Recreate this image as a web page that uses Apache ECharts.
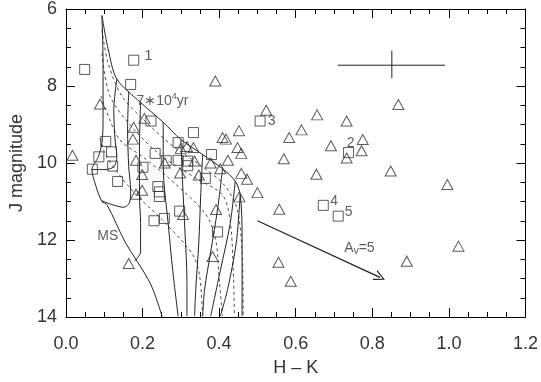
<!DOCTYPE html>
<html>
<head>
<meta charset="utf-8">
<script src="https://cdn.jsdelivr.net/npm/echarts@6/dist/echarts.min.js"></script>
<style>
  body { margin: 0; background: #fff; }
  #cmd { width: 541px; height: 382px; }
</style>
</head>
<body>
<div id="cmd"></div>
<script>
// J vs H-K diagram: squares, triangles, tracks and isochrones
const squareX = [0.177, 0.049, 0.169, 0.222, 0.333, 0.104, 0.293, 0.119, 0.086, 0.233, 0.380, 0.262, 0.293, 0.318, 0.318, 0.201, 0.069, 0.122, 0.135, 0.240, 0.244, 0.244, 0.364, 0.297, 0.230, 0.257, 0.396, 0.507, 0.738, 0.672, 0.711];
const squareJ = [7.33, 7.57, 7.96, 8.91, 9.21, 9.44, 9.47, 9.71, 9.84, 9.75, 9.78, 9.94, 9.93, 9.95, 10.07, 10.11, 10.16, 10.08, 10.48, 10.61, 10.75, 10.87, 10.40, 11.25, 11.50, 11.44, 11.79, 8.91, 9.73, 11.10, 11.38];

const triX = [0.089, 0.205, 0.177, 0.175, 0.316, 0.300, 0.333, 0.017, 0.390, 0.409, 0.418, 0.452, 0.448, 0.458, 0.183, 0.258, 0.336, 0.378, 0.423, 0.298, 0.199, 0.347, 0.403, 0.458, 0.473, 0.183, 0.199, 0.453, 0.500, 0.306, 0.392, 0.383, 0.164, 0.523, 0.656, 0.733, 0.615, 0.583, 0.692, 0.775, 0.772, 0.733, 0.569, 0.654, 0.848, 0.868, 0.557, 0.996, 1.025, 0.890, 0.555, 0.587];
const triJ = [8.47, 8.84, 9.07, 9.38, 9.57, 9.62, 9.60, 9.80, 7.87, 9.34, 9.38, 9.16, 9.60, 9.75, 9.93, 10.00, 9.95, 10.00, 9.93, 10.26, 10.30, 10.31, 10.15, 10.27, 10.42, 10.81, 10.71, 10.88, 10.77, 11.34, 11.21, 12.43, 12.61, 8.63, 8.75, 8.91, 9.14, 9.34, 9.55, 9.39, 9.68, 9.87, 9.89, 10.29, 10.21, 8.48, 11.20, 10.56, 12.16, 12.55, 12.58, 13.07];

// youngest isochrone (solid) and main sequence
const birthline = [[0.094, 6.17], [0.110, 7.03], [0.133, 7.82], [0.195, 8.43], [0.254, 8.94], [0.300, 9.39], [0.357, 9.78], [0.409, 10.15], [0.442, 10.47], [0.455, 10.83], [0.460, 11.82], [0.460, 13.98]];
const mainSeq = [[0.094, 6.17], [0.097, 7.40], [0.097, 8.87], [0.094, 9.48], [0.084, 9.85], [0.068, 10.17], [0.078, 10.59], [0.094, 11.0], [0.107, 11.08], [0.155, 12.06], [0.220, 13.12], [0.251, 13.98]];

// mass tracks (solid)
const tracks = [
  [[0.133, 7.82], [0.125, 8.63], [0.128, 9.36], [0.133, 9.85], [0.125, 10.10], [0.099, 10.17], [0.066, 10.17]],
  [[0.164, 8.13], [0.161, 9.12], [0.164, 10.10], [0.169, 10.71], [0.166, 11.03], [0.151, 11.15], [0.120, 11.08], [0.094, 10.98]],
  [[0.195, 8.43], [0.192, 9.61], [0.192, 10.83], [0.195, 11.57], [0.195, 12.31], [0.179, 12.55]],
  [[0.254, 8.94], [0.254, 10.10], [0.267, 11.57], [0.279, 12.80], [0.293, 13.98]],
  [[0.300, 9.39], [0.305, 10.59], [0.311, 11.82], [0.316, 13.04], [0.316, 13.98]],
  [[0.357, 9.78], [0.352, 10.83], [0.347, 12.06], [0.339, 13.29], [0.336, 13.98]],
  [[0.409, 10.15], [0.396, 11.20], [0.378, 12.31], [0.362, 13.29], [0.357, 13.98]],
  [[0.442, 10.47], [0.429, 11.57], [0.403, 12.80], [0.378, 13.98]],
  [[0.455, 10.83], [0.445, 12.06], [0.422, 13.29], [0.403, 13.98]]
];

// older isochrones (dotted)
const isochrones = [
  [[0.094, 6.54], [0.110, 7.40], [0.146, 8.26], [0.202, 8.87], [0.279, 9.56], [0.357, 10.10], [0.415, 10.59], [0.447, 11.20], [0.460, 12.31], [0.463, 13.98]],
  [[0.094, 7.15], [0.115, 8.26], [0.177, 9.12], [0.254, 9.85], [0.344, 10.42], [0.409, 10.83], [0.429, 11.50], [0.437, 12.80], [0.440, 13.98]],
  [[0.092, 8.26], [0.138, 9.36], [0.202, 9.85], [0.272, 10.42], [0.365, 11.33], [0.391, 11.99], [0.401, 13.12], [0.409, 13.98]],
  [[0.089, 9.36], [0.107, 9.85], [0.177, 10.76], [0.254, 11.50], [0.331, 12.38], [0.349, 12.92], [0.357, 13.98]]
];

// reddening vector and error cross
const arrowFrom = [0.50, 11.50];
const arrowTo = [0.82, 12.97];
const errH = [[0.710, 7.46], [0.990, 7.46]];
const errV = [[0.851, 7.08], [0.851, 7.80]];

// text annotations
const noteX = [0.205, 0.733, 0.527, 0.690, 0.728, 0.184, 0.082, 0.727];
const noteJ = [7.22, 9.48, 8.90, 11.00, 11.28, 8.40, 11.90, 12.20];
const noteText = ['1', '2', '3', '4', '5', '7∗10{sup|4}yr', 'MS', 'A{sub|v}=5'];

const ink = '#222';
const font = 'Liberation Sans';

function solid(data) {
  return { type: 'line', data: data, showSymbol: false, smooth: 0.3, silent: true,
    lineStyle: { color: ink, width: 1 }, z: 2 };
}
function dotted(data) {
  return { type: 'line', data: data, showSymbol: false, smooth: 0.3, silent: true,
    lineStyle: { color: ink, width: 0.8, type: [3, 3] }, z: 2 };
}

const chart = echarts.init(document.getElementById('cmd'));

const series = [];
series.push(solid(birthline));
series.push(solid(mainSeq));
tracks.forEach(t => series.push(solid(t)));
isochrones.forEach(t => series.push(dotted(t)));
series.push({ type: 'line', data: errH, showSymbol: false, lineStyle: { color: ink, width: 1 } });
series.push({ type: 'line', data: errV, showSymbol: false, lineStyle: { color: ink, width: 1 } });
series.push({
  type: 'line', data: [], showSymbol: false,
  markLine: {
    silent: true, symbol: ['none', 'path://M0,0 L6,12 L4.6,12 L0,2.6 L-4.6,12 L-6,12 Z'], symbolSize: [11, 11],
    lineStyle: { color: ink, width: 1.2, type: 'solid' }, itemStyle: { color: ink }, label: { show: false },
    data: [[{ coord: arrowFrom }, { coord: arrowTo }]]
  }
});
series.push({
  type: 'scatter', symbol: 'rect', symbolSize: 10,
  data: squareX.map((x, i) => [x, squareJ[i]]),
  itemStyle: { color: 'rgba(0,0,0,0)', borderColor: '#333', borderWidth: 1 }, z: 3
});
series.push({
  type: 'scatter', symbol: 'triangle', symbolSize: [11, 10],
  data: triX.map((x, i) => [x, triJ[i]]),
  itemStyle: { color: 'rgba(0,0,0,0)', borderColor: '#333', borderWidth: 1 }, z: 3
});
series.push({
  type: 'scatter', symbolSize: 0,
  data: noteX.map((x, i) => [x, noteJ[i], noteText[i]]),
  label: {
    show: true, position: 'inside', align: 'left', verticalAlign: 'middle',
    formatter: p => p.value[2], color: '#333', fontFamily: font, fontSize: 14,
    rich: {
      sup: { fontSize: 9, fontFamily: font, color: '#333', padding: [0, 0, 9, 0] },
      sub: { fontSize: 10, fontFamily: font, color: '#333', padding: [8, 0, 0, 0] }
    }
  }
});

const tickStyle = { color: '#000', width: 1 };
chart.setOption({
  animation: false,
  backgroundColor: '#fff',
  grid: { left: 61.5, right: 14, top: 6, bottom: 51 },
  xAxis: [{
    type: 'value', min: 0, max: 1.2, interval: 0.2,
    name: 'H – K', nameLocation: 'middle', nameGap: 42,
    nameTextStyle: { fontFamily: font, fontSize: 18, color: '#333' },
    axisLine: { onZero: false, lineStyle: tickStyle },
    axisTick: { inside: true, length: 9, lineStyle: tickStyle },
    minorTick: { show: true, splitNumber: 4, length: 5, lineStyle: tickStyle },
    splitLine: { show: false },
    axisLabel: { formatter: v => v.toFixed(1), fontFamily: font, fontSize: 18, color: '#333', margin: 18 }
  }, {
    type: 'value', position: 'top', min: 0, max: 1.2, interval: 0.2,
    axisLine: { onZero: false, lineStyle: tickStyle },
    axisTick: { inside: true, length: 9, lineStyle: tickStyle },
    minorTick: { show: true, splitNumber: 4, length: 5, lineStyle: tickStyle },
    splitLine: { show: false }, axisLabel: { show: false }
  }],
  yAxis: [{
    type: 'value', inverse: true, min: 6, max: 14, interval: 2,
    name: 'J magnitude', nameLocation: 'middle', nameGap: 38, nameRotate: 90,
    nameTextStyle: { fontFamily: font, fontSize: 18, color: '#333' },
    axisLine: { onZero: false, lineStyle: tickStyle },
    axisTick: { inside: true, length: 9, lineStyle: tickStyle },
    minorTick: { show: true, splitNumber: 4, length: 5, lineStyle: tickStyle },
    splitLine: { show: false },
    axisLabel: { fontFamily: font, fontSize: 18, color: '#333', margin: 9 }
  }, {
    type: 'value', inverse: true, position: 'right', min: 6, max: 14, interval: 2,
    axisLine: { onZero: false, lineStyle: tickStyle },
    axisTick: { inside: true, length: 9, lineStyle: tickStyle },
    minorTick: { show: true, splitNumber: 4, length: 5, lineStyle: tickStyle },
    splitLine: { show: false }, axisLabel: { show: false }
  }],
  series: series
});
</script>
</body>
</html>
